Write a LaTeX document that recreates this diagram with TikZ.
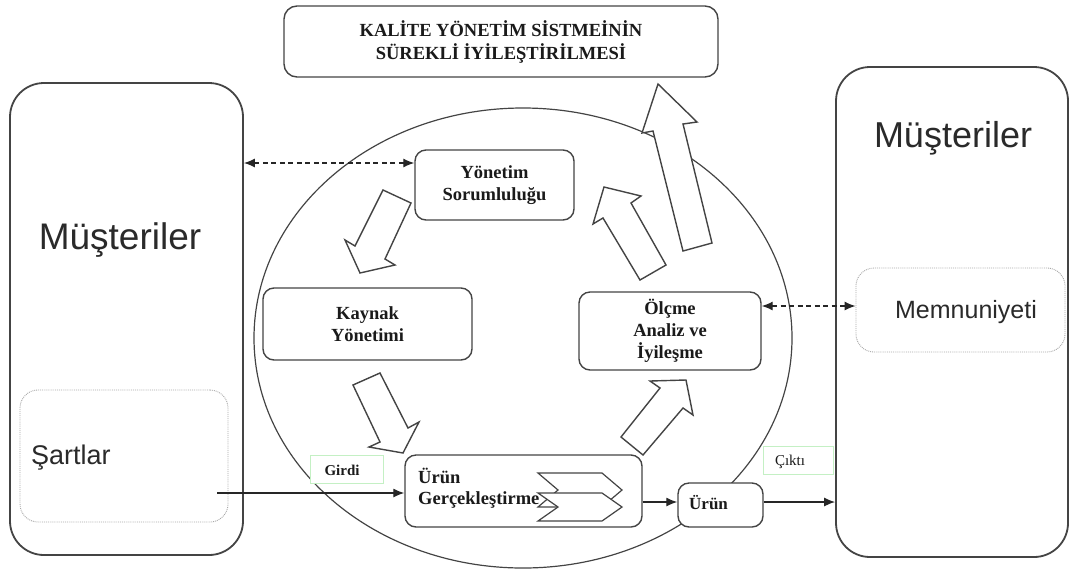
\documentclass[tikz,border=0pt]{standalone}
\usepackage{fontspec}
\setmainfont{Liberation Serif}
\newfontfamily\sansfam{Liberation Sans}
\usetikzlibrary{shapes.geometric,arrows.meta}
\definecolor{linegray}{HTML}{444444}
\definecolor{dotgray}{HTML}{A8A8A8}
\definecolor{lightgreen}{HTML}{C4F0C4}
\definecolor{txtcol}{HTML}{1A1A1A}
\definecolor{sanstxt}{HTML}{2A2A2A}
\begin{document}
\begin{tikzpicture}[x=1pt,y=-1pt,
  box/.style={draw=linegray, line width=1.4pt, rounded corners=11pt, fill=white,
    text=txtcol, font=\fontsize{18.5}{22}\selectfont\bfseries, align=center, inner sep=0pt},
  bigbox/.style={draw=linegray, line width=1.8pt, rounded corners=34pt, fill=white},
  dotbox/.style={draw=dotgray, line width=0.9pt, densely dotted, rounded corners=18pt, fill=white},
  greenbox/.style={draw=lightgreen, line width=0.8pt, fill=white},
  bigtext/.style={text=sanstxt, font=\sansfam\fontsize{37}{40}\selectfont, inner sep=0pt},
  smalllabel/.style={text=txtcol, font=\fontsize{15}{18}\selectfont\bfseries, inner sep=0pt},
  blockarrow/.style={draw=linegray, line width=1.4pt, fill=white, line join=miter},
  dasharrow/.style={draw=black!85, line width=1.2pt, dash pattern=on 5pt off 3.5pt, {Latex[length=11pt,width=9pt]}-{Latex[length=11pt,width=9pt]}},
  flowarrow/.style={draw=black!85, line width=1.3pt, -{Latex[length=11pt,width=9pt]}},
  chevron/.style={draw=linegray, line width=1.2pt, fill=white, line join=miter}
]
\useasboundingbox (0,0) rectangle (1075,574);

% central ellipse
\node[ellipse, draw=linegray, line width=1.2pt, minimum width=538pt, minimum height=460pt, inner sep=0pt] (cyc) at (523,338) {};

% big customer boxes
\node[bigbox, minimum width=233pt, minimum height=472pt] (left) at (126.5,319) {};
\node[bigbox, minimum width=232pt, minimum height=490pt] (right) at (952,312) {};
\node[bigtext] (ltitle) at (120,240) {Müşteriler};
\node[bigtext, font=\sansfam\fontsize{36}{40}\selectfont] (rtitle) at (953,138) {Müşteriler};

% dotted inner boxes
\node[dotbox, minimum width=208pt, minimum height=132pt] (sartlar) at (124,456) {};
\node[text=sanstxt, font=\sansfam\fontsize{27}{30}\selectfont, anchor=west, inner sep=0pt] (sartlartxt) at (31,458) {Şartlar};
\node[dotbox, minimum width=209pt, minimum height=84pt] (memnun) at (960.5,310) {};
\node[text=sanstxt, font=\sansfam\fontsize{25}{28}\selectfont, inner sep=0pt] (memnuntxt) at (966,312) {Memnuniyeti};

% top box
\node[box, rounded corners=13pt, minimum width=434pt, minimum height=71pt, font=\fontsize{18.5}{23}\selectfont\bfseries] (top) at (501,41.5) {KALİTE YÖNETİM SİSTMEİNİN\\SÜREKLİ İYİLEŞTİRİLMESİ};

% block arrows (cycle)
\draw[blockarrow] (383,190) -- (411,203) -- (385,259) -- (395,265) -- (360,273) -- (345,240) -- (355,246) -- cycle;
\draw[blockarrow] (353,385) -- (380,373) -- (408,428) -- (419,422) -- (403,453) -- (369,447) -- (380,442) -- cycle;
\draw[blockarrow] (621,437) -- (660,388) -- (650,381) -- (686,380) -- (693,415) -- (683,408) -- (643,455) -- cycle;
\draw[blockarrow] (604,187) -- (641,196) -- (631,203) -- (666,265) -- (640,280) -- (603,218) -- (593,224) -- cycle;
\draw[blockarrow] (658,84) -- (697,122) -- (683,124) -- (712,243) -- (683,251) -- (653,131) -- (642,133) -- cycle;

% process boxes
\node[box, minimum width=159pt, minimum height=70pt] (yonetim) at (494.5,185) {Yönetim\\Sorumluluğu};
\node[box, minimum width=209pt, minimum height=72pt] (kaynak) at (367.5,324) {Kaynak\\Yönetimi};
\node[box, minimum width=182pt, minimum height=78pt] (olcme) at (670,331) {Ölçme\\Analiz ve\\İyileşme};
\node[box, minimum width=237pt, minimum height=72pt] (urung) at (523.5,491) {};
\node[text=txtcol, font=\fontsize{18.5}{21}\selectfont\bfseries, align=left, anchor=west, inner sep=0pt] (urungtxt) at (418,488) {Ürün\\Gerçekleştirme};
\node[box, minimum width=85pt, minimum height=44pt] (urun) at (720.5,505) {};
\node[smalllabel, font=\fontsize{17}{20}\selectfont\bfseries, anchor=west] (uruntxt) at (689,503) {Ürün};

% chevrons inside product realisation
\draw[chevron] (538,473) -- (602,473) -- (622,490) -- (602,507) -- (538,507) -- (558,490) -- cycle;
\draw[chevron] (538,493) -- (602,493) -- (622,507) -- (602,521) -- (538,521) -- (558,507) -- cycle;

% labels Girdi / Çıktı
\node[greenbox, minimum width=73pt, minimum height=28pt] (girdi) at (346.5,469) {};
\node[smalllabel] (girditxt) at (342,470) {Girdi};
\node[greenbox, minimum width=70pt, minimum height=28pt] (cikti) at (798,460) {};
\node[smalllabel, font=\fontsize{15}{18}\selectfont] (ciktitxt) at (790,462) {Çıktı};

% connectors
\coordinate (instart) at (217,493);
\draw[flowarrow] (instart) -- (instart -| urung.west);
\draw[flowarrow] ([yshift=3pt]urun.west -| urung.east) -- ([yshift=3pt]urun.west);
\draw[flowarrow] ([yshift=3pt]urun.east) -- ([yshift=3pt]urun.east -| right.west);
\draw[dasharrow] ([yshift=22pt]yonetim.west -| left.east) -- ([yshift=22pt]yonetim.west);
\draw[dasharrow] ([yshift=25pt]olcme.east) -- ([yshift=25pt]olcme.east -| memnun.west);
\end{tikzpicture}
\end{document}
